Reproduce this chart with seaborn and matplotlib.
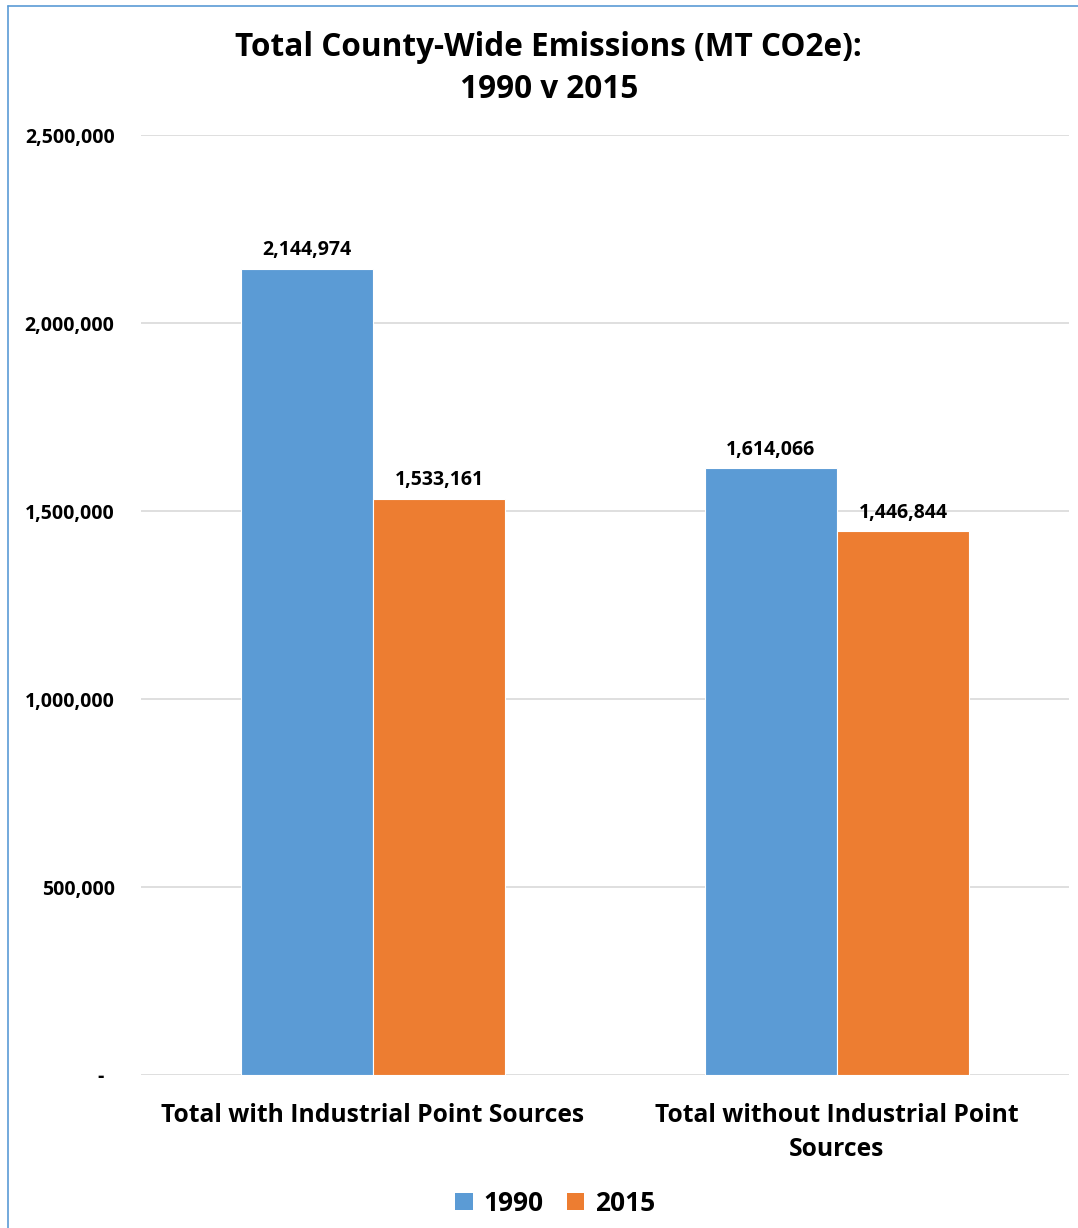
import matplotlib
matplotlib.use("Agg")
import matplotlib.pyplot as plt
from matplotlib.lines import Line2D
from matplotlib.patches import Patch
from matplotlib.ticker import FuncFormatter
import seaborn as sns
import pandas as pd

categories = ["Total with Industrial Point Sources", "Total without Industrial Point\nSources"]
years = ["1990", "2015"]
values_1990 = [2144974, 1614066]
values_2015 = [1533161, 1446844]
yticks = [0, 500000, 1000000, 1500000, 2000000, 2500000]

colors = {"1990": "#5B9BD5", "2015": "#ED7D31"}

df = pd.DataFrame({
    "category": categories * 2,
    "year": [years[0]] * 2 + [years[1]] * 2,
    "value": values_1990 + values_2015,
})

sns.set_theme(style="white")
plt.rcParams["font.family"] = ["Open Sans", "DejaVu Sans"]
plt.rcParams["font.weight"] = "bold"
plt.rcParams["text.color"] = "black"

fig = plt.figure(figsize=(10.78, 12.28), dpi=100)
ax = fig.add_axes([141 / 1078, 0.1246, 928 / 1078, 0.7654])

sns.barplot(data=df, x="category", y="value", hue="year", palette=colors,
            saturation=1, width=0.57, edgecolor="white", linewidth=0.8,
            ax=ax, legend=False)

ax.set_xlim(-0.5, 1.5)
ax.set_ylim(0, 2500000)
ax.set_yticks(yticks)
# accounting-style labels: a dash for zero, thousands separators otherwise
ax.yaxis.set_major_formatter(FuncFormatter(lambda v, _: "-  " if v == 0 else f"{int(v):,}"))
ax.grid(axis="y", color="#d9d9d9", linewidth=1.2)
ax.set_axisbelow(True)
for s in ax.spines.values():
    s.set_visible(False)
ax.tick_params(axis="y", length=0, pad=19, labelsize=14)
ax.tick_params(axis="x", length=0, pad=20, labelsize=17.7)
for lbl in ax.get_yticklabels() + ax.get_xticklabels():
    lbl.set_fontweight("bold")
    lbl.set_color("black")
for lbl in ax.get_xticklabels():
    lbl.set_linespacing(1.5)
ax.set_xlabel("")
ax.set_ylabel("")

for container in ax.containers:
    ax.bar_label(container, labels=[f"{int(v):,}" for v in container.datavalues],
                 padding=6, fontsize=14, fontweight="bold", color="black")

fig.suptitle("Total County-Wide Emissions (MT CO2e):\n1990 v 2015", x=0.509, y=0.975,
             fontsize=22.7, fontweight="bold", linespacing=1.38, color="black")

handles = [Patch(facecolor=colors[y], edgecolor="none", label=y) for y in years]
fig.legend(handles=handles, loc="center", bbox_to_anchor=(0.515, 0.02), ncol=2,
           frameon=False, handlelength=0.65, handleheight=0.65,
           handletextpad=0.4, columnspacing=0.9, prop={"weight": "bold", "size": 19})

border = "#5B9BD5"
fig.add_artist(Line2D([8 / 1078, 8 / 1078], [0, 1 - 6 / 1228], transform=fig.transFigure,
                      color=border, linewidth=1.2))
fig.add_artist(Line2D([8 / 1078, 1], [1 - 6 / 1228, 1 - 6 / 1228], transform=fig.transFigure,
                      color=border, linewidth=1.2))

fig.savefig("out.png", dpi=100)
